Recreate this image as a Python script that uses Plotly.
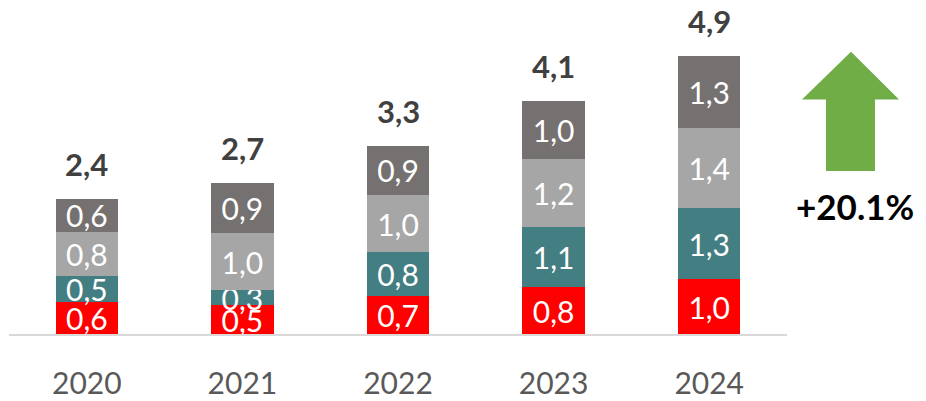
import plotly.graph_objects as go

years = ["2020", "2021", "2022", "2023", "2024"]
red_vals = [0.56, 0.51, 0.66, 0.82, 0.96]
teal_vals = [0.46, 0.26, 0.78, 1.06, 1.26]
light_vals = [0.78, 1.00, 1.00, 1.20, 1.41]
dark_vals = [0.57, 0.89, 0.875, 1.01, 1.26]
growth_label = "+20.1%"

totals = [r + t + l + d for r, t, l, d in zip(red_vals, teal_vals, light_vals, dark_vals)]

# page body adds an 8px margin, so the figure is shrunk to fit the window
PAD = 8
W, H = 926 - PAD, 401 - PAD
M = dict(l=1, r=139, t=2, b=65)
PW = W - M["l"] - M["r"]
PH = H - M["t"] - M["b"]
X0 = PAD + M["l"]          # left edge of plot area in window pixels
Y0 = PAD + H - M["b"]      # baseline in window pixels
FONT = "Lato, 'Open Sans', sans-serif"


def px(x, y):
    # window pixel -> paper coordinates
    return (x - X0) / PW, (Y0 - y) / PH


series = [
    (red_vals, "#FF0000"),
    (teal_vals, "#437E82"),
    (light_vals, "#A6A6A6"),
    (dark_vals, "#767171"),
]

fig = go.Figure()
for vals, col in series:
    fig.add_trace(
        go.Bar(
            x=years,
            y=vals,
            marker=dict(color=col, line=dict(width=0)),
            texttemplate="%{y:.1f}",
            textposition="inside",
            insidetextanchor="middle",
            textangle=0,
            constraintext="none",
            textfont=dict(family=FONT, size=30, color="white"),
            hoverinfo="skip",
        )
    )

for i, tot in enumerate(totals):
    fig.add_annotation(
        x=i,
        y=tot,
        text=f"<b>{tot:.1f}</b>".replace(".", ","),
        showarrow=False,
        xanchor="center",
        yanchor="bottom",
        yshift=14,
        font=dict(family=FONT, size=31, color="#404040"),
    )

# green up arrow
pts = [(851, 52), (899, 100), (875, 100), (875, 172), (826, 172), (826, 100), (802, 100)]
path = ""
for i, (x, y) in enumerate(pts):
    xp, yp = px(x, y)
    path += ("M" if i == 0 else "L") + f"{xp:.4f},{yp:.4f} "
path += "Z"
fig.add_shape(type="path", xref="paper", yref="paper", path=path,
              fillcolor="#70AD47", line=dict(width=0))

gx, gy = px(855, 207)
fig.add_annotation(
    xref="paper", yref="paper", x=gx, y=gy,
    xanchor="center", yanchor="middle",
    text=f"<b>{growth_label}</b>", showarrow=False,
    font=dict(family=FONT, size=35, color="black"),
)

fig.update_layout(
    width=W,
    height=H,
    margin=M,
    barmode="stack",
    bargap=0.6,
    showlegend=False,
    separators=",.",
    paper_bgcolor="white",
    plot_bgcolor="white",
    xaxis=dict(
        type="category",
        categoryorder="array",
        categoryarray=years,
        range=[-0.5, len(years) - 0.5],
        showline=True,
        linecolor="#D9D9D9",
        linewidth=2,
        ticks="",
        ticklabelstandoff=22,
        tickfont=dict(family=FONT, size=30, color="#595959"),
    ),
    yaxis=dict(range=[0, PH / 57.2], visible=False, showgrid=False, zeroline=False),
)

fig.write_html("out.html")
